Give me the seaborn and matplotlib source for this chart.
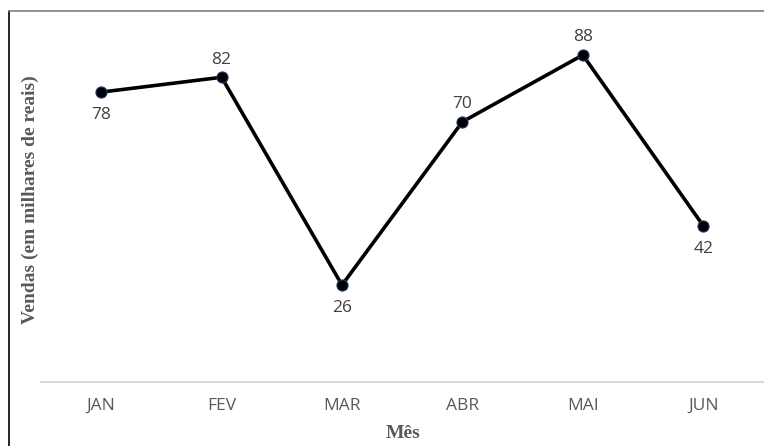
import matplotlib
matplotlib.use("Agg")
import matplotlib.pyplot as plt
from matplotlib.lines import Line2D
import seaborn as sns
import pandas as pd

meses = ["JAN", "FEV", "MAR", "ABR", "MAI", "JUN"]
vendas = [78, 82, 26, 70, 88, 42]
posicao_rotulo = ["below", "above", "below", "above", "above", "below"]

sns.set_theme(style="white")
plt.rcParams["font.family"] = ["Open Sans", "DejaVu Sans"]

W, H = 764, 446
fig = plt.figure(figsize=(W / 100, H / 100), dpi=100)
ax = fig.add_axes([41 / W, (H - 381.5) / H, (763.4 - 41) / W, (381.5 - 10.5) / H])

df = pd.DataFrame({"Mês": meses, "Vendas": vendas})
sns.lineplot(data=df, x="Mês", y="Vendas", sort=False, ax=ax, color="black",
             linewidth=2.6, marker="o", markersize=8, markerfacecolor="black",
             markeredgecolor="#1f3a70", markeredgewidth=0.8, zorder=3)

ax.set_xlim(-0.5, len(meses) - 0.5)
ax.set_ylim(0, 100)
ax.set_yticks([])
ax.set_xticks(range(len(meses)))
ax.set_xticklabels(meses, color="#595959", fontsize=12.5)
ax.tick_params(axis="x", length=0, pad=12)
for s in ["top", "right", "left"]:
    ax.spines[s].set_visible(False)
ax.spines["bottom"].set_color("#d9d9d9")
ax.spines["bottom"].set_linewidth(1.5)

ax.set_xlabel("")
ax.set_ylabel("")

for i, (v, pos) in enumerate(zip(vendas, posicao_rotulo)):
    off = 7 if pos == "above" else -11
    ax.annotate(str(v), (i, v), xytext=(0, off), textcoords="offset points",
                ha="center", va="bottom" if pos == "above" else "top",
                color="#404040", fontsize=12.5)

serif = ["Liberation Serif", "DejaVu Serif"]
fig.text(30 / W, 1 - 200 / H, "Vendas (em milhares de reais)", rotation=90,
         ha="center", va="center", fontsize=14, fontweight="bold",
         color="#595959", family=serif)
fig.text(403 / W, 1 - 434 / H, "Mês", ha="center", va="center", fontsize=14,
         fontweight="bold", color="#595959", family=serif)

# chart frame
fig.add_artist(Line2D([8.5 / W, 8.5 / W], [0, 1 - 11 / H], transform=fig.transFigure,
                      color="black", linewidth=1.2))
fig.add_artist(Line2D([8.5 / W, 1], [1 - 11 / H, 1 - 11 / H], transform=fig.transFigure,
                      color="#7f7f7f", linewidth=1.2))

fig.savefig("out.png", dpi=100)
